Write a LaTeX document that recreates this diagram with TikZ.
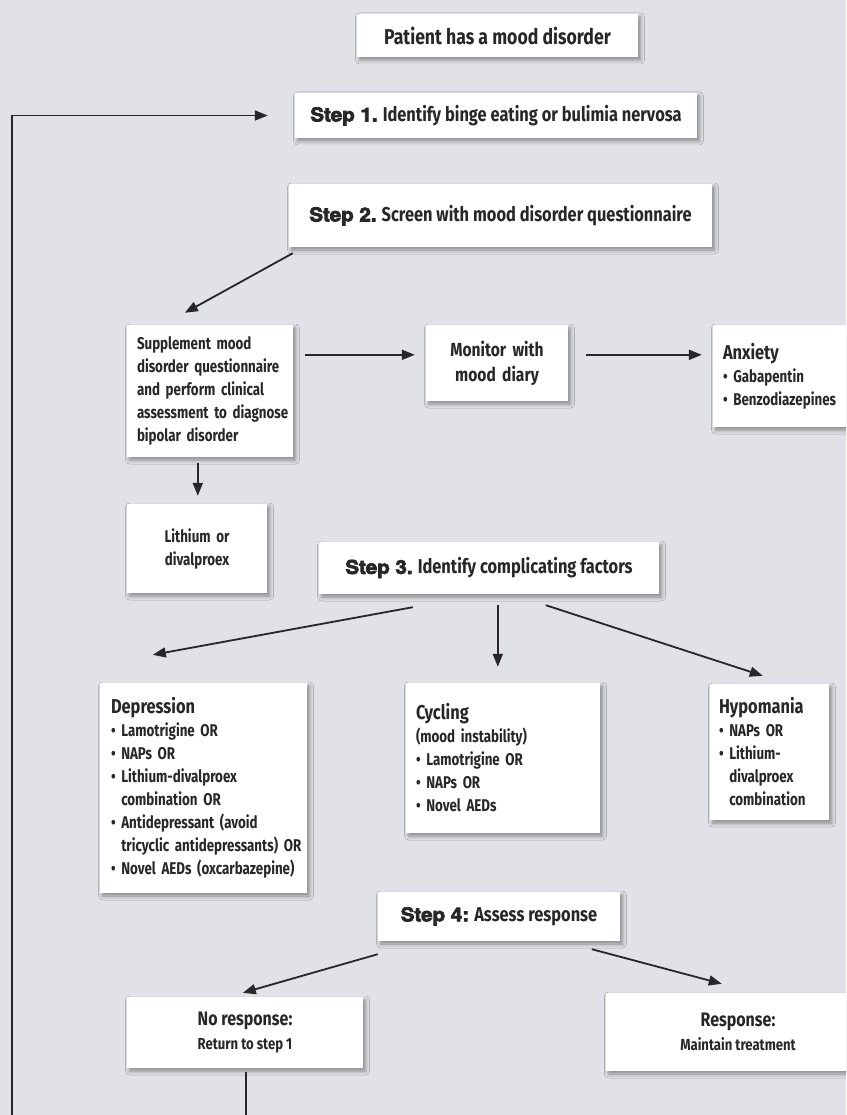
\documentclass[tikz,border=0pt]{standalone}
\usepackage{fontspec}
\setmainfont{Fira Sans}
\newfontfamily\medf{Fira Sans}[FakeStretch=0.82]
\newfontfamily\bodyf{Fira Sans}[FakeStretch=0.785]
\newfontfamily\stepf{TeX Gyre Heros}[FakeStretch=1.08]
\usetikzlibrary{arrows.meta,shadows.blur,calc}
\definecolor{bg}{RGB}{224,226,231}
\definecolor{ink}{RGB}{40,38,40}
\newcommand{\heavyon}{\special{pdf:literal direct 2 Tr 0.75 w}}
\newcommand{\heavyoff}{\special{pdf:literal direct 0 Tr}}
\newcommand{\stp}[1]{{\stepf\bfseries\fontsize{19}{24}\selectfont\heavyon#1\heavyoff}}
\newcommand{\hdg}[1]{{\medf\bfseries\fontsize{20}{23}\selectfont #1}}
\newcommand{\lin}[1]{\mbox{#1}}
\newcommand{\bul}{\textbullet\ }
\begin{document}
\begin{tikzpicture}[x=1pt,y=-1pt,
  box/.style={fill=white, inner sep=0pt, text=ink,
    blur shadow={shadow xshift=2.5pt, shadow yshift=-3pt, shadow blur radius=4pt, shadow opacity=40}},
  medtxt/.style={font=\medf\bfseries\fontsize{20}{24}\selectfont, align=center},
  bodytxt/.style={font=\bodyf\bfseries\fontsize{17}{23}\selectfont},
  arr/.style={draw=ink, line width=1.8pt, line join=miter, -{Triangle[length=13pt,width=10pt]}},
]
\useasboundingbox (0,0) rectangle (846,1115);
\clip (0,0) rectangle (846,1115);
\fill[bg] (0,0) rectangle (846,1115);

\node[box, medtxt, font=\medf\bfseries\fontsize{21.5}{24}\selectfont, minimum width=281pt, minimum height=43pt] (patient) at (497.5,35.5) {Patient has a mood disorder};
\node[box, medtxt, minimum width=402pt, minimum height=45pt] (step1) at (496,115.5) {\stp{Step 1.} Identify binge eating or bulimia nervosa};
\node[box, medtxt, minimum width=423pt, minimum height=63pt] (step2) at (500.5,215.5) {\stp{Step 2.} Screen with mood disorder questionnaire};

\node[box, bodytxt, text width=146pt, inner xsep=10pt, minimum height=132pt, align=left] (supp) at (210,391)
  {\lin{Supplement mood}\\\lin{disorder questionnaire}\\\lin{and perform clinical}\\\lin{assessment to diagnose}\\\lin{bipolar disorder}};
\node[box, medtxt, font=\medf\bfseries\fontsize{19}{25}\selectfont, text width=142pt, minimum height=76pt] (monitor) at (497,363)
  {Monitor with\\mood diary};
\node[box, bodytxt, text width=127pt, inner xsep=10pt, minimum height=102pt, align=left] (anxiety) at (786.5,376)
  {\hdg{Anxiety}\\\bul Gabapentin\\\bul Benzodiazepines};
\node[box, bodytxt, text width=140pt, minimum height=89pt, align=center] (lithium) at (197,548.5)
  {Lithium or\\divalproex};

\node[box, medtxt, minimum width=340pt, minimum height=52pt] (step3) at (489,568) {\stp{Step 3.} Identify complicating factors};

\node[box, bodytxt, text width=185pt, inner xsep=11pt, minimum height=210pt, align=left] (dep) at (203.5,788)
  {\hdg{Depression}\\\lin{\bul Lamotrigine OR}\\\lin{\bul NAPs OR}\\\lin{\bul Lithium-divalproex}\\\lin{\phantom{\bul}combination OR}\\\lin{\bul Antidepressant (avoid}\\\lin{\phantom{\bul}tricyclic antidepressants) OR}\\\lin{\bul Novel AEDs (oxcarbazepine)}};
\node[box, bodytxt, text width=174pt, inner xsep=10pt, minimum height=150pt, align=left] (cyc) at (503,758)
  {\hdg{Cycling}\\(mood instability)\\\bul Lamotrigine OR\\\bul NAPs OR\\\bul Novel AEDs};
\node[box, bodytxt, text width=101pt, inner xsep=9pt, minimum height=136pt, align=left] (hyp) at (769.5,752)
  {\hdg{Hypomania}\\\lin{\bul NAPs OR}\\\lin{\bul Lithium-}\\\lin{\phantom{\bul}divalproex}\\\lin{\phantom{\bul}combination}};

\node[box, medtxt, minimum width=242pt, minimum height=49pt] (step4) at (499,916.5) {\stp{Step 4:} Assess response};
\node[box, medtxt, minimum width=236pt, minimum height=71pt] (noresp) at (245,1032.5)
  {{\fontsize{19.5}{24}\selectfont No response:}\\{\fontsize{16}{24}\selectfont Return to step 1}};
\node[box, medtxt, minimum width=264pt, minimum height=78pt] (resp) at (738,1032)
  {{\fontsize{19.5}{24}\selectfont Response:}\\{\fontsize{16}{24}\selectfont Maintain treatment}};

\draw[arr] ([shift={(4,6)}]step2.south west) -- ([shift={(58,-12)}]supp.north west);
\draw[arr] ([shift={(12,30)}]supp.north east) -- ([shift={(-11,30)}]monitor.north west);
\draw[arr] ([shift={(18,30)}]monitor.north east) -- ([shift={(-11,30)}]anxiety.north west);
\draw[arr] ([shift={(71,6)}]supp.south west) -- ([shift={(71,-8)}]lithium.north west);
\draw[arr] ([shift={(94,13)}]step3.south west) -- ([shift={(53,-28)}]dep.north west);
\draw[arr] ([shift={(179,11)}]step3.south west) -- ([shift={(92,-16)}]cyc.north west);
\draw[arr] ([shift={(227,11)}]step3.south west) -- ([shift={(53,-8)}]hyp.north west);
\draw[arr] ([shift={(0,13)}]step4.south west) -- ([shift={(116,-4)}]noresp.north west);
\draw[arr] ([shift={(214,8)}]step4.south west) -- ([shift={(116,-9)}]resp.north west);

\coordinate (loopBL) at (12,1160);
\draw[arr] ([shift={(1,4)}]noresp.south) |- (loopBL) |- ([xshift=-27pt]step1.west);
\end{tikzpicture}
\end{document}
